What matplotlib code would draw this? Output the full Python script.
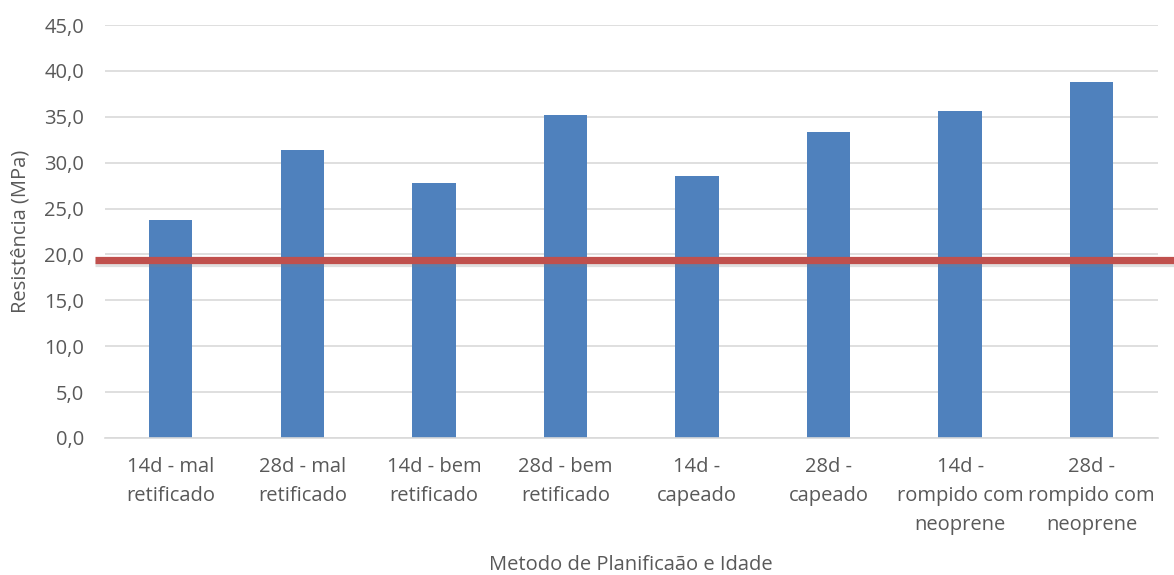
import matplotlib
matplotlib.use("Agg")
import matplotlib.pyplot as plt
import matplotlib.patheffects as pe
from matplotlib.transforms import blended_transform_factory
from matplotlib.ticker import FuncFormatter

categories = [
    "14d - mal\nretificado",
    "28d - mal\nretificado",
    "14d - bem\nretificado",
    "28d - bem\nretificado",
    "14d -\ncapeado",
    "28d -\ncapeado",
    "14d -\nrompido com\nneoprene",
    "28d -\nrompido com\nneoprene",
]
resistencia = [23.7, 31.4, 27.8, 35.2, 28.5, 33.3, 35.6, 38.8]
fck_ref = 19.4
y_ticks = [0, 5, 10, 15, 20, 25, 30, 35, 40, 45]

plt.rcParams['font.family'] = ['Open Sans', 'DejaVu Sans']
text_color = '#595959'
grid_color = '#D9D9D9'
fs = 14.5

fig = plt.figure(figsize=(11.74, 5.75), dpi=100)
ax = fig.add_axes([0.0894, 0.2383, 0.8966, 0.7182])

x = range(len(categories))
ax.bar(x, resistencia, width=0.33, color='#4F81BD', zorder=2)

ax.set_xlim(-0.5, len(categories) - 0.5)
ax.set_ylim(0, 45)
ax.set_yticks(y_ticks)
ax.yaxis.set_major_formatter(FuncFormatter(lambda v, p: f"{v:.1f}".replace('.', ',')))
ax.set_xticks(list(x))
ax.set_xticklabels(categories, linespacing=1.6)

ax.grid(axis='y', color=grid_color, linewidth=1.2, zorder=0)
for s in ['top', 'right', 'left']:
    ax.spines[s].set_visible(False)
ax.spines['bottom'].set_color(grid_color)
ax.spines['bottom'].set_linewidth(1.2)
ax.tick_params(axis='both', length=0, labelsize=fs, labelcolor=text_color)
ax.tick_params(axis='x', pad=14)
ax.tick_params(axis='y', pad=15)

ax.set_ylabel("Resistência (MPa)", fontsize=fs, color=text_color, labelpad=10)
ax.set_xlabel("Metodo de Planificaão e Idade", fontsize=fs, color=text_color, labelpad=14)

# reference strength line spanning past the plot area
trans = blended_transform_factory(fig.transFigure, ax.transData)
ax.plot([0.081, 1.0], [fck_ref, fck_ref], transform=trans, color='#C0504D',
        linewidth=5.2, solid_capstyle='butt', clip_on=False, zorder=5,
        path_effects=[pe.SimpleLineShadow(offset=(0, -2.5), shadow_color='#808080', alpha=0.25),
                      pe.Normal()])

fig.savefig("out.png", dpi=100, facecolor='white')
